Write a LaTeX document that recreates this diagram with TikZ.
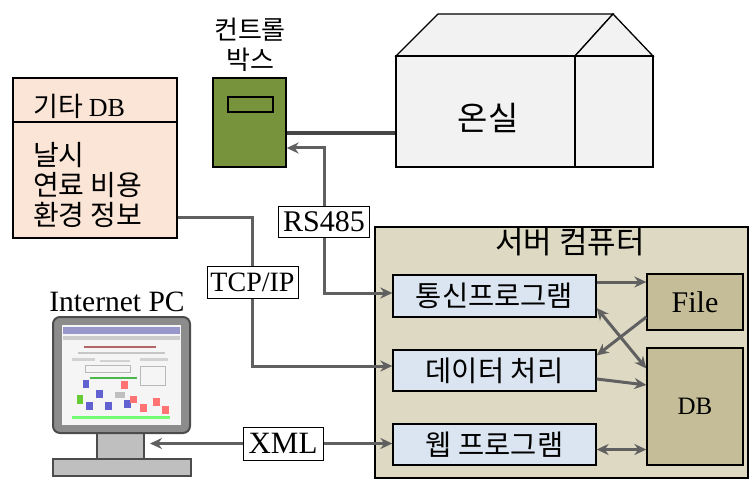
\documentclass[tikz,border=0pt]{standalone}
\usepackage{fontspec}
\setmainfont{Liberation Serif}
\newfontfamily\kr{Noto Sans CJK KR}
\usetikzlibrary{arrows.meta,calc}

\definecolor{peach}{HTML}{FBE5D6}
\definecolor{ctrlgreen}{HTML}{77933C}
\definecolor{housegray}{HTML}{F2F2F2}
\definecolor{servertan}{HTML}{DDD9C3}
\definecolor{progblue}{HTML}{DBE5F1}
\definecolor{storetan}{HTML}{C4BD97}
\definecolor{linegray}{HTML}{606060}
\definecolor{bezel}{HTML}{8C8C8C}
\definecolor{standgray}{HTML}{BFBFBF}

\newcommand{\krsize}[1]{\kr\fontsize{#1}{#1}\selectfont}
\newcommand{\rmsize}[1]{\rmfamily\fontsize{#1}{#1}\selectfont}

\begin{document}
\begin{tikzpicture}[x=1pt,y=-1pt,
  box/.style={draw=black, line width=1.3pt, inner sep=0pt},
  krtext/.style={font=\krsize{28}, inner sep=0pt},
  progbox/.style={box, fill=progblue, minimum width=203pt, font=\krsize{28.5}},
  storebox/.style={box, fill=storetan, minimum width=96pt},
  tag/.style={draw=black, fill=white, line width=1pt, inner sep=0pt},
  link/.style={draw=linegray, line width=3pt},
  arr/.style={link, -{Stealth[length=12pt,width=11pt]}},
  biarr/.style={link, {Stealth[length=12pt,width=11pt]}-{Stealth[length=12pt,width=11pt]}},
  heavy/.style={draw=black!72, line width=4.5pt}]

\useasboundingbox (0,0) rectangle (749,481);

% --- other database ---
\node[box, fill=peach, minimum width=164pt, minimum height=160pt] (etc) at (95,158) {};
\draw[black, line width=1.3pt] (etc.west |- 0,122) -- (etc.east |- 0,122);
\node[anchor=west, inner sep=0pt] (etctitle) at (33,106)
  {\krsize{27}기타 \rmsize{26}DB};
\node[krtext, anchor=west] (w1) at (33,155) {날시};
\node[krtext, anchor=west] (w2) at (33,185) {연료 비용};
\node[krtext, anchor=west] (w3) at (33,215) {환경 정보};

% --- control box ---
\node[align=center, inner sep=0pt, font=\kr\fontsize{26}{30}\selectfont] (ctrllabel) at (250,45) {컨트롤\\박스};
\node[box, fill=ctrlgreen, minimum width=73pt, minimum height=89pt] (ctrl) at (249.5,122.5) {};
\node[box, minimum width=45pt, minimum height=15pt] (panel) at (250.5,104.5) {};

% --- greenhouse ---
\filldraw[fill=housegray, draw=black, line width=1.3pt]
  (396,56) -- (438,14) -- (613,14) -- (575,56) -- cycle;
\filldraw[fill=housegray, draw=black, line width=1.3pt]
  (575,56) -- (613,14) -- (653,56) -- cycle;
\node[box, fill=housegray, minimum width=179pt, minimum height=111pt] (gh) at (485.5,111.5) {};
\node[box, fill=housegray, minimum width=78pt, minimum height=111pt] (ghside) at (614,111.5) {};
\node[krtext, font=\krsize{33}] (ghlabel) at (488,118) {온실};

% --- server computer ---
\node[box, fill=servertan, minimum width=373pt, minimum height=251pt] (server) at (561.5,352.5) {};
\node[krtext, font=\krsize{31}] (servertitle) at (570,242) {서버 컴퓨터};
\node[progbox, minimum height=42pt] (tong) at (494.5,296) {통신프로그램};
\node[progbox, minimum height=41pt] (data) at (494.5,370.5) {데이터 처리};
\node[progbox, minimum height=41pt] (web) at (494.5,444.5) {웹 프로그램};
\node[storebox, minimum height=56pt, font=\rmsize{30}] (file) at (695,302) {File};
\node[storebox, minimum height=117pt, font=\rmsize{25}] (db) at (695,406.5) {DB};

% --- internet PC ---
\node[inner sep=0pt, font=\rmsize{29.5}] (pclabel) at (117,302) {Internet PC};
\filldraw[fill=standgray, draw=black!70, line width=1.3pt] (97,432) rectangle (144,459);
\filldraw[fill=standgray, draw=black!70, line width=1.3pt] (53,459) rectangle (191,476);
\filldraw[fill=bezel, draw=black!70, line width=2pt, rounded corners=7pt] (53,317) rectangle (190,433);
\fill[white!96!black] (62,325) rectangle (181,425);
% screen contents
\fill[blue!35!gray!60] (63,327) rectangle (180,334);
\fill[gray!40] (63,336) rectangle (180,340);
\fill[red!50!black!60] (84,346) rectangle (156,348);
\fill[gray!45] (78,352) rectangle (165,354);
\fill[gray!35] (72,358) rectangle (95,361);
\fill[gray!35] (100,360) rectangle (130,362);
\fill[gray!35] (140,358) rectangle (168,361);
\draw[gray!55, line width=0.6pt] (85,365) rectangle (130,372);
\draw[gray!55, line width=0.6pt] (140,366) rectangle (165,385);
\fill[green!60!black!70] (90,377) rectangle (137,379);
\fill[blue!55!gray!80] (83,380) rectangle (89,388);
\fill[blue!55!gray!80] (96,390) rectangle (103,398);
\fill[blue!55!gray!80] (86,402) rectangle (93,410);
\fill[blue!55!gray!80] (105,402) rectangle (112,410);
\fill[blue!55!gray!80] (124,400) rectangle (131,408);
\fill[green!50!olive!80] (77,395) rectangle (83,404);
\fill[red!55!white] (121,381) rectangle (128,389);
\fill[red!55!white] (130,396) rectangle (137,403);
\fill[red!55!white] (140,404) rectangle (147,412);
\fill[red!55!white] (153,398) rectangle (160,406);
\fill[red!55!white] (162,406) rectangle (169,414);
\fill[gray!50] (115,392) rectangle (125,398);
\fill[green!55!white] (72,416) rectangle (170,419);
\coordinate (pcin) at (150,443.5);

% --- connection labels ---
\node[tag, minimum width=91pt, minimum height=31pt, font=\rmsize{30}] (rs) at (324,221.5) {RS485};
\node[tag, minimum width=91pt, minimum height=32pt, font=\rmsize{28}] (tcp) at (252.5,282) {TCP/IP};
\node[tag, minimum width=80pt, minimum height=33pt, font=\rmsize{31}] (xml) at (283,443.5) {XML};

% --- connectors ---
\draw[heavy] ([yshift=-10.5pt]ctrl.east) -- ([yshift=-10.5pt]ctrl.east -| gh.west);
\draw[arr] (rs.north) |- ([yshift=-25.5pt]ctrl.east);
\draw[arr] (rs.south) |- ([yshift=3pt]tong.west);
\draw[link] ([yshift=-59pt]etc.east) -| (tcp.north);
\draw[arr] (tcp.south) |- ([yshift=4.5pt]data.west);
\draw[arr] (xml.west) -- (pcin);
\draw[arr] (xml.east) -- (xml.east -| web.west);

\draw[arr] ([yshift=14pt]tong.east) -- ([yshift=14pt]tong.east -| file.west);
\draw[arr] ([yshift=-15pt]file.west) -- ([yshift=15pt]data.east);
\draw[biarr] ([yshift=-12pt]tong.east) -- ([yshift=38pt]db.west);
\draw[arr] ([yshift=-8.5pt]data.east) -- ([yshift=21.5pt]db.west);
\draw[biarr] ([yshift=-5pt]web.east) -- ([yshift=-5pt]web.east -| db.west);
\end{tikzpicture}
\end{document}
